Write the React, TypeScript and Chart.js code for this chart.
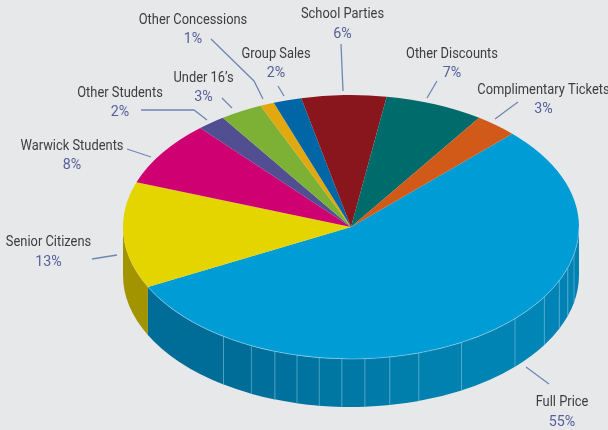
import React, { useEffect, useRef } from "react";
import { Chart, registerables } from "chart.js";

Chart.register(...registerables);

const categories = [
  "Full Price",
  "Senior Citizens",
  "Warwick Students",
  "Other Students",
  "Under 16\u2019s",
  "Other Concessions",
  "Group Sales",
  "School Parties",
  "Other Discounts",
  "Complimentary Tickets",
];
const shares = [55, 13, 8, 2, 3, 1, 2, 6, 7, 3];
const sliceColors = [
  "#009cd6", "#e4d500", "#cf0072", "#514e91", "#7cb135",
  "#e1a90f", "#0066a6", "#8a161d", "#006b6b", "#d25a19",
];
const wallColors = ["#006c98", "#a29300"];

// Panels on the Full Price wall: angle from straight-down, left to right.
const panelEdges = [-63, -34, -25.9, -19.5, -13.7, -8, -2.3, 3.5, 9.8, 17.3, 29, 46, 58, 66, 72, 78, 90];
const panelShades = [
  "#006c98", "#006d99", "#006f9b", "#00719e", "#0074a1", "#0076a3", "#0078a6", "#007ba9",
  "#007eac", "#0081b0", "#0084b4", "#0085b6", "#0084b5", "#0083b4", "#0082b3", "#0081b2",
];

// Text anchors and leader lines for each category, same order as `categories`.
const labelLayout = [
  { x: 562, y: 401, py: 421, line: [[526, 367], [549, 384]] },
  { x: 48.5, y: 241, py: 261, line: [[92, 259], [117, 255]] },
  { x: 72, y: 145, py: 164, line: [[127, 149], [151, 157]] },
  { x: 120, y: 92, py: 111, line: [[141, 110], [194, 110], [207, 120]] },
  { x: 203.5, y: 77, py: 96, line: [[222, 98], [232, 108]] },
  { x: 193, y: 19, py: 38, line: [[211, 39], [254, 81], [263, 99]] },
  { x: 276, y: 53, py: 72, line: [[278, 86], [284, 96]] },
  { x: 342.5, y: 13, py: 33, line: [[341, 44], [343, 91]] },
  { x: 452, y: 53, py: 72, line: [[437, 81], [427, 98]] },
  { x: 543.5, y: 89, py: 108, line: [[518, 102], [495, 119]] },
];

const PIE = { cx: 351, cy: 227, rx: 228, ry: 132, depth: 48 };
const NAME_FONT = '14px Roboto, "Liberation Sans", sans-serif';
const SHARE_FONT = '15.5px Roboto, "Liberation Sans", sans-serif';
const SQUEEZE = 0.92;
const TEXT_DROP = 1;

function wallPath(ctx: CanvasRenderingContext2D, a: number, b: number) {
  const { cx, cy, rx, ry, depth } = PIE;
  ctx.beginPath();
  ctx.ellipse(cx, cy, rx, ry, 0, a, b, false);
  ctx.ellipse(cx, cy + depth, rx, ry, 0, b, a, true);
  ctx.closePath();
}

const pie3d = {
  id: "pie3d",
  beforeDatasetsDraw(chart: any) {
    const ctx: CanvasRenderingContext2D = chart.ctx;
    const { cx, cy, rx, ry, depth } = PIE;
    const arcs = chart.getDatasetMeta(0).data;
    ctx.save();
    arcs.forEach((arc: any, i: number) => {
      const { startAngle, endAngle } = arc.getProps(["startAngle", "endAngle"], true);
      const a = Math.max(startAngle, 0);
      const b = Math.min(endAngle, Math.PI);
      if (a >= b) return;
      if (i === 0) {
        for (let k = 0; k < panelShades.length; k++) {
          const pa = Math.max(a, ((90 - panelEdges[k + 1]) * Math.PI) / 180);
          const pb = Math.min(b, ((90 - panelEdges[k]) * Math.PI) / 180);
          ctx.fillStyle = panelShades[k];
          wallPath(ctx, pa, pb + 0.002);
          ctx.fill();
        }
        ctx.strokeStyle = "rgba(150,210,232,0.6)";
        ctx.lineWidth = 0.8;
        for (let k = 1; k < panelEdges.length - 1; k++) {
          const t = ((90 - panelEdges[k]) * Math.PI) / 180;
          const x = cx + rx * Math.cos(t);
          const y = cy + ry * Math.sin(t);
          ctx.beginPath();
          ctx.moveTo(x, y);
          ctx.lineTo(x, y + depth);
          ctx.stroke();
        }
      } else {
        ctx.fillStyle = wallColors[i] ?? wallColors[0];
        wallPath(ctx, a, b);
        ctx.fill();
      }
    });
    ctx.restore();

    const first = arcs[0];
    const r = first.getProps(["outerRadius"], true).outerRadius;
    const { x: px, y: py } = first.getProps(["x", "y"], true);
    ctx.save();
    ctx.translate(cx, cy);
    ctx.scale(rx / r, ry / r);
    ctx.translate(-px, -py);
  },
  afterDatasetsDraw(chart: any) {
    const ctx: CanvasRenderingContext2D = chart.ctx;
    ctx.restore();
    const { cx, cy, rx, ry } = PIE;
    const arcs = chart.getDatasetMeta(0).data;
    const { startAngle, endAngle } = arcs[0].getProps(["startAngle", "endAngle"], true);
    ctx.save();
    ctx.strokeStyle = "rgba(170,220,238,0.7)";
    ctx.lineWidth = 0.7;
    ctx.beginPath();
    ctx.ellipse(cx, cy, rx, ry, 0, Math.max(startAngle, 0), endAngle, false);
    ctx.stroke();

    ctx.textAlign = "center";
    ctx.textBaseline = "middle";
    const put = (s: string, x: number, y: number) =>
      ctx.fillText(s, x, y + TEXT_DROP, ctx.measureText(s).width * SQUEEZE);
    chart.data.labels.forEach((name: string, i: number) => {
      const l = labelLayout[i];
      ctx.strokeStyle = "#6f87b2";
      ctx.lineWidth = 1.3;
      ctx.beginPath();
      l.line.forEach(([x, y], k) => (k ? ctx.lineTo(x, y) : ctx.moveTo(x, y)));
      ctx.stroke();
      ctx.font = NAME_FONT;
      ctx.fillStyle = "#3d3d3f";
      put(name, l.x, l.y);
      ctx.font = SHARE_FONT;
      ctx.fillStyle = "#56609a";
      put(`${chart.data.datasets[0].data[i]}%`, l.x, l.py);
    });
    ctx.restore();
  },
};

export default function App() {
  const ref = useRef<HTMLCanvasElement>(null);
  useEffect(() => {
    document.body.style.margin = "0";
    document.body.style.background = "#e7e8ea";
    const chart = new Chart(ref.current!, {
      type: "pie",
      data: {
        labels: categories,
        datasets: [{ data: shares, backgroundColor: sliceColors, borderWidth: 0, clip: false } as any],
      },
      options: {
        animation: false,
        responsive: false,
        rotation: 45,
        layout: { padding: 0 },
        plugins: { legend: { display: false }, tooltip: { enabled: false } },
      },
      plugins: [pie3d],
    });
    return () => chart.destroy();
  }, []);
  return (
    <div style={{ width: 608, height: 430, background: "#e7e8ea" }}>
      <canvas ref={ref} width={608} height={430} style={{ display: "block" }} />
    </div>
  );
}
